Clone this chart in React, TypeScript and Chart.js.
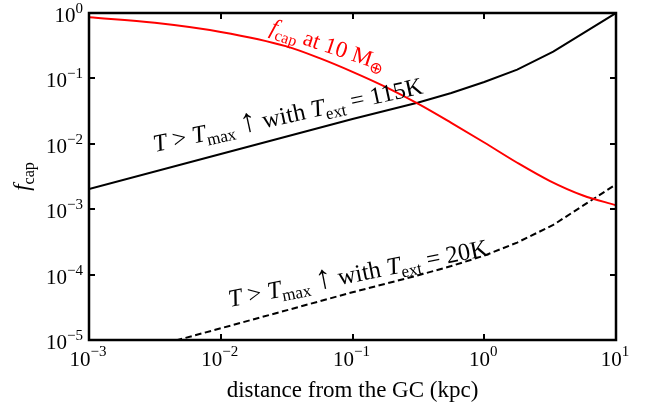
import React, { useEffect, useRef } from "react";
import { Chart, registerables } from "chart.js";

Chart.register(...registerables);

// ---- Axis ticks ----
const xTickValues = [1e-3, 1e-2, 1e-1, 1e0, 1e1];
const xTickExponents = ["\u22123", "\u22122", "\u22121", "0", "1"];
const yTickValues = [1e-5, 1e-4, 1e-3, 1e-2, 1e-1, 1e0];
const yTickExponents = ["\u22125", "\u22124", "\u22123", "\u22122", "\u22121", "0"];

const xAxisLabel = "distance from the GC (kpc)";

// ---- Series: f_cap at 10 Earth masses (red) ----
const redDistance = [0.001, 0.00316, 0.01, 0.0316, 0.0562, 0.1, 0.178, 0.316, 0.562, 1, 1.78, 3.16, 5.62, 10];
const redFcap = [0.859, 0.708, 0.513, 0.309, 0.204, 0.126, 0.0741, 0.0407, 0.0209, 0.01047, 0.00513, 0.00269, 0.00162, 0.00115];

// ---- Series: T > Tmax with Text = 115K (solid black) ----
const hotDistance = [0.001, 0.01, 0.1, 0.316, 0.562, 1, 1.778, 3.34, 10];
const hotFcap = [0.00204, 0.007, 0.024, 0.0427, 0.0598, 0.0881, 0.1365, 0.257, 1.0];

// ---- Series: T > Tmax with Text = 20K (dashed black) ----
const coldDistance = [0.001, 0.01, 0.1, 0.316, 0.562, 1, 1.778, 3.34, 10];
const coldFcap = [4.27e-6, 1.51e-5, 5.37e-5, 9.77e-5, 1.35e-4, 1.95e-4, 3.09e-4, 5.75e-4, 2.4e-3];

type Seg = { t: string; it?: boolean; sub?: boolean; scale?: number };

const redLabel: Seg[] = [
  { t: "f", it: true },
  { t: "cap", sub: true },
  { t: " at 10 M" },
  { t: "\u2295", sub: true },
];
const hotLabel: Seg[] = [
  { t: "T", it: true },
  { t: " > " },
  { t: "T", it: true },
  { t: "max", sub: true },
  { t: " " },
  { t: "\u2191", scale: 1.35 },
  { t: " with " },
  { t: "T", it: true },
  { t: "ext", sub: true },
  { t: " = 115K" },
];
const coldLabel: Seg[] = [
  { t: "T", it: true },
  { t: " > " },
  { t: "T", it: true },
  { t: "max", sub: true },
  { t: " " },
  { t: "\u2191", scale: 1.35 },
  { t: " with " },
  { t: "T", it: true },
  { t: "ext", sub: true },
  { t: " = 20K" },
];
const yAxisLabel: Seg[] = [
  { t: "f", it: true },
  { t: "cap", sub: true },
];

// annotation placement (data coords of baseline start) and angle in degrees
const annotations = [
  { segs: redLabel, x: 0.02323, y: 0.494, angle: 18.5, size: 23, color: "#ff0000" },
  { segs: hotLabel, x: 0.00317, y: 0.0075, angle: -12.3, size: 24.5, color: "#000000" },
  { segs: coldLabel, x: 0.01175, y: 3.2e-5, angle: -11.3, size: 24.5, color: "#000000" },
];

const FONT = "'Liberation Serif', 'Times New Roman', serif";

function segSize(s: Seg, size: number) {
  return s.sub ? size * 0.7 : size * (s.scale || 1);
}

function setFont(ctx: CanvasRenderingContext2D, size: number, italic?: boolean) {
  ctx.font = `${italic ? "italic " : ""}${size}px ${FONT}`;
}

function measureRich(ctx: CanvasRenderingContext2D, segs: Seg[], size: number) {
  let w = 0;
  for (const s of segs) {
    setFont(ctx, segSize(s, size), s.it);
    w += ctx.measureText(s.t).width;
  }
  return w;
}

function drawRich(
  ctx: CanvasRenderingContext2D,
  segs: Seg[],
  x: number,
  y: number,
  angleDeg: number,
  size: number,
  color: string
) {
  ctx.save();
  ctx.translate(x, y);
  ctx.rotate((angleDeg * Math.PI) / 180);
  ctx.fillStyle = color;
  ctx.textBaseline = "alphabetic";
  ctx.textAlign = "left";
  let cx = 0;
  for (const s of segs) {
    setFont(ctx, segSize(s, size), s.it);
    const dy = s.sub ? size * 0.2 : 0;
    ctx.fillText(s.t, cx, dy);
    cx += ctx.measureText(s.t).width;
  }
  ctx.restore();
}

const decorPlugin = {
  id: "decor",
  afterDatasetsDraw(chart: any) {
    const { ctx, chartArea: a, scales } = chart;
    const xs = scales.x;
    const ys = scales.y;
    ctx.save();
    // frame
    ctx.strokeStyle = "#000";
    ctx.lineWidth = 2.5;
    ctx.strokeRect(a.left, a.top, a.right - a.left, a.bottom - a.top);
    // inward ticks
    ctx.lineWidth = 2;
    const tl = 6;
    ctx.beginPath();
    for (const v of xTickValues) {
      const px = Math.round(xs.getPixelForValue(v));
      ctx.moveTo(px, a.bottom);
      ctx.lineTo(px, a.bottom - tl);
      ctx.moveTo(px, a.top);
      ctx.lineTo(px, a.top + tl);
    }
    for (const v of yTickValues) {
      const py = Math.round(ys.getPixelForValue(v));
      ctx.moveTo(a.left, py);
      ctx.lineTo(a.left + tl, py);
      ctx.moveTo(a.right, py);
      ctx.lineTo(a.right - tl, py);
    }
    ctx.stroke();

    // tick labels
    ctx.fillStyle = "#000";
    ctx.textBaseline = "alphabetic";
    ctx.textAlign = "left";
    const base = 21;
    const expo = 15;
    xTickValues.forEach((v, i) => {
      const px = xs.getPixelForValue(v);
      setFont(ctx, base);
      const w1 = ctx.measureText("10").width;
      setFont(ctx, expo);
      const w2 = ctx.measureText(xTickExponents[i]).width;
      const sx = px - (w1 + w2) / 2 - 1;
      const by = a.bottom + 26;
      setFont(ctx, base);
      ctx.fillText("10", sx, by);
      setFont(ctx, expo);
      ctx.fillText(xTickExponents[i], sx + w1, by - 10);
    });
    yTickValues.forEach((v, i) => {
      const py = ys.getPixelForValue(v);
      setFont(ctx, base);
      const w1 = ctx.measureText("10").width;
      setFont(ctx, expo);
      const w2 = ctx.measureText(yTickExponents[i]).width;
      const sx = a.left - 6 - (w1 + w2);
      const by = py + 9;
      setFont(ctx, base);
      ctx.fillText("10", sx, by);
      setFont(ctx, expo);
      ctx.fillText(yTickExponents[i], sx + w1, by - 9);
    });

    // x-axis title
    setFont(ctx, 23);
    ctx.textAlign = "center";
    ctx.fillText(xAxisLabel, (a.left + a.right) / 2, a.bottom + 57);

    // y-axis title
    const yw = measureRich(ctx, yAxisLabel, 23);
    drawRich(ctx, yAxisLabel, 29, (a.top + a.bottom) / 2 + yw / 2, -90, 23, "#000");

    // annotations
    for (const an of annotations) {
      const px = xs.getPixelForValue(an.x);
      const py = ys.getPixelForValue(an.y);
      drawRich(ctx, an.segs, px, py, an.angle, an.size, an.color);
    }
    ctx.restore();
  },
};

export default function App() {
  const ref = useRef<HTMLCanvasElement | null>(null);
  useEffect(() => {
    if (!ref.current) return;
    const toPts = (xs: number[], ys: number[]) => xs.map((x, i) => ({ x, y: ys[i] }));
    const chart = new Chart(ref.current, {
      type: "line",
      data: {
        datasets: [
          {
            label: "f_cap at 10 M⊕",
            data: toPts(redDistance, redFcap),
            borderColor: "#ff0000",
            borderWidth: 2,
            pointRadius: 0,
            cubicInterpolationMode: "monotone",
          },
          {
            label: "T > Tmax with Text = 115K",
            data: toPts(hotDistance, hotFcap),
            borderColor: "#000000",
            borderWidth: 2,
            pointRadius: 0,
            tension: 0,
          },
          {
            label: "T > Tmax with Text = 20K",
            data: toPts(coldDistance, coldFcap),
            borderColor: "#000000",
            borderWidth: 2,
            borderDash: [6.5, 3.5],
            pointRadius: 0,
            tension: 0,
          },
        ],
      },
      options: {
        animation: false,
        responsive: false,
        devicePixelRatio: 1,
        layout: { padding: { left: 89, right: 39, top: 13, bottom: 62 } },
        plugins: {
          legend: { display: false },
          tooltip: { enabled: false },
        },
        scales: {
          x: { type: "logarithmic", min: 1e-3, max: 10, display: false },
          y: { type: "logarithmic", min: 1e-5, max: 1, display: false },
        },
      },
      plugins: [decorPlugin],
    });
    return () => chart.destroy();
  }, []);
  return (
    <div style={{ position: "absolute", left: 0, top: 0, width: 655, height: 402, background: "#fff" }}>
      <canvas ref={ref} width={655} height={402} style={{ display: "block" }} />
    </div>
  );
}
